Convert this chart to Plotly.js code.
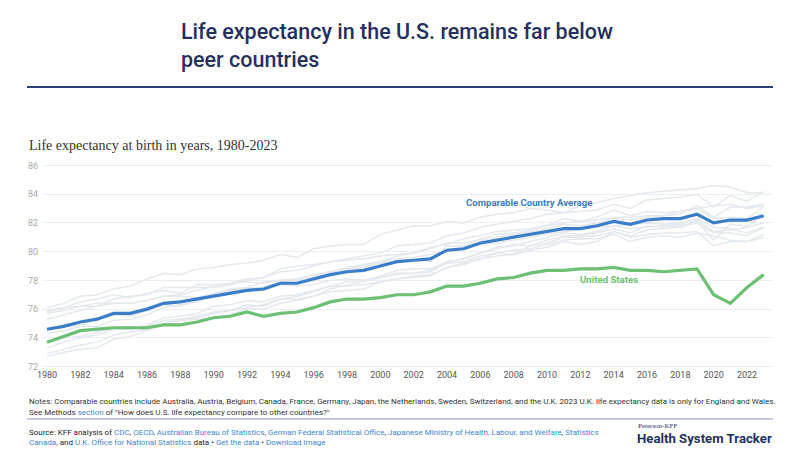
<!DOCTYPE html>
<html>
<head>
<meta charset="utf-8">
<script src="https://cdn.plot.ly/plotly-3.0.1.min.js"></script>
<style>
  html, body { margin: 0; padding: 0; background: #ffffff; }
  #chart { width: 800px; height: 458px; }
</style>
</head>
<body>
<div id="chart"></div>
<script>
// Years 1980-2023
const years = [1980,1981,1982,1983,1984,1985,1986,1987,1988,1989,1990,1991,1992,1993,1994,1995,1996,1997,1998,1999,2000,2001,2002,2003,2004,2005,2006,2007,2008,2009,2010,2011,2012,2013,2014,2015,2016,2017,2018,2019,2020,2021,2022,2023];

// Life expectancy at birth, United States
const unitedStates = [73.7,74.1,74.5,74.6,74.7,74.7,74.7,74.9,74.9,75.1,75.4,75.5,75.8,75.5,75.7,75.8,76.1,76.5,76.7,76.7,76.8,77.0,77.0,77.2,77.6,77.6,77.8,78.1,78.2,78.5,78.7,78.7,78.8,78.8,78.9,78.7,78.7,78.6,78.7,78.8,77.0,76.4,77.5,78.4];

// Comparable country average
const comparableAverage = [74.6,74.8,75.1,75.3,75.7,75.7,76.0,76.4,76.5,76.7,76.9,77.1,77.3,77.4,77.8,77.8,78.1,78.4,78.6,78.7,79.0,79.3,79.4,79.5,80.1,80.2,80.6,80.8,81.0,81.2,81.4,81.6,81.6,81.8,82.1,81.9,82.2,82.3,82.3,82.6,82.0,82.2,82.2,82.5];

// Individual comparable countries
const japan = [76.1,76.4,76.9,77.0,77.4,77.6,78.1,78.5,78.4,78.8,78.9,79.1,79.2,79.4,79.8,79.6,80.2,80.4,80.5,80.5,81.2,81.5,81.8,81.8,82.1,82.0,82.4,82.6,82.7,83.0,82.9,82.7,83.2,83.4,83.7,83.9,84.1,84.2,84.3,84.4,84.6,84.5,84.1,84.1];
const switzerland = [75.7,75.9,76.2,76.2,76.7,76.9,77.0,77.5,77.5,77.5,77.5,77.7,78.0,78.2,78.6,78.7,79.0,79.3,79.5,79.7,79.9,80.4,80.5,80.6,81.1,81.3,81.7,81.9,82.1,82.3,82.6,82.7,82.8,82.9,83.3,83.0,83.6,83.7,83.8,84.0,83.1,83.9,83.5,84.2];
const sweden = [75.8,76.1,76.5,76.7,77.0,76.8,77.1,77.3,77.1,77.7,77.7,77.8,78.1,78.2,78.8,79.0,79.1,79.3,79.4,79.5,79.7,79.8,79.9,80.2,80.6,80.6,80.8,81.0,81.2,81.4,81.6,81.9,81.8,82.0,82.3,82.2,82.4,82.5,82.6,83.2,82.4,83.1,83.1,83.3];
const australia = [74.6,74.9,74.8,75.4,75.6,75.5,75.9,76.3,76.2,76.6,77.0,77.4,77.5,77.9,78.0,78.1,78.3,78.6,78.9,79.1,79.3,79.7,79.9,80.3,80.5,80.9,81.1,81.4,81.5,81.6,81.8,82.0,82.1,82.2,82.4,82.4,82.5,82.5,82.8,83.0,83.2,83.3,83.0,83.2];
const canada = [75.3,75.6,75.9,76.2,76.4,76.4,76.6,76.9,77.0,77.3,77.6,77.8,77.9,77.8,78.0,78.1,78.4,78.6,78.8,79.0,79.3,79.5,79.6,79.8,80.1,80.2,80.5,80.6,80.8,81.0,81.2,81.4,81.6,81.7,81.8,81.9,82.0,81.9,82.0,82.3,81.7,81.6,81.3,81.7];
const france = [74.3,74.5,74.8,74.8,75.2,75.3,75.6,76.1,76.3,76.5,77.0,77.2,77.5,77.5,77.9,78.0,78.2,78.6,78.7,78.9,79.2,79.3,79.4,79.3,80.4,80.4,80.9,81.2,81.3,81.5,81.8,82.3,82.1,82.4,82.9,82.5,82.8,82.7,82.8,83.0,82.3,82.4,82.3,83.1];
const netherlands = [75.9,76.1,76.2,76.4,76.4,76.4,76.6,76.9,76.9,76.8,77.1,77.3,77.4,77.3,77.7,77.6,77.7,78.0,78.1,78.0,78.2,78.4,78.5,78.7,79.3,79.5,79.9,80.3,80.4,80.7,81.0,81.3,81.2,81.4,81.8,81.6,81.7,81.8,81.9,82.2,81.4,81.5,81.7,82.0];
const belgium = [73.3,73.7,74.0,74.2,74.6,74.6,74.9,75.4,75.5,75.7,76.2,76.3,76.6,76.5,76.9,77.0,77.3,77.6,77.6,77.7,77.9,78.1,78.2,78.3,78.9,79.1,79.5,79.9,79.8,80.1,80.3,80.7,80.5,80.7,81.4,81.1,81.5,81.6,81.7,82.1,80.8,81.9,81.8,82.5];
const austria = [72.7,73.0,73.2,73.3,73.9,74.1,74.5,74.9,75.3,75.5,75.8,75.9,76.1,76.3,76.7,76.9,77.2,77.6,77.9,78.0,78.3,78.7,78.8,78.8,79.3,79.5,79.9,80.2,80.5,80.4,80.8,81.1,81.1,81.3,81.6,81.3,81.8,81.7,81.8,82.0,81.3,81.3,81.1,81.7];
const germany = [72.9,73.2,73.5,73.7,74.2,74.4,74.6,75.0,75.2,75.3,75.4,75.6,76.0,76.0,76.4,76.6,76.9,77.4,77.7,77.9,78.2,78.5,78.5,78.6,79.2,79.3,79.7,79.9,80.1,80.2,80.5,80.8,80.9,80.9,81.2,80.7,81.0,81.1,81.0,81.3,81.1,80.8,80.7,81.2];
const unitedKingdom = [73.7,74.0,74.1,74.4,74.7,74.6,74.8,75.2,75.3,75.4,75.7,75.9,76.3,76.2,76.7,76.7,76.9,77.2,77.3,77.4,77.9,78.1,78.3,78.4,78.9,79.2,79.5,79.7,79.8,80.4,80.6,81.0,81.0,81.1,81.4,81.0,81.2,81.3,81.3,81.4,80.4,80.7,80.7,81.0];

const peerNames = ['Japan','Switzerland','Sweden','Australia','Canada','France','Netherlands','Belgium','Austria','Germany','United Kingdom'];
const peerSeries = [japan, switzerland, sweden, australia, canada, france, netherlands, belgium, austria, germany, unitedKingdom];

const yTicks = [72,74,76,78,80,82,84,86];
const xTicks = [1980,1982,1984,1986,1988,1990,1992,1994,1996,1998,2000,2002,2004,2006,2008,2010,2012,2014,2016,2018,2020,2022];

// Colours
const NAVY = '#25305f';
const BLUE = '#3b7dc8';
const GREEN = '#6cbf74';
const PEER = '#e4e9ee';
const LINK = '#3f86cf';

// Plot area in pixels
const L = 42, T = 164, W = 730, H = 204;
const px = x => (x - L) / W;
const py = y => (T + H - y) / H;

const traces = [];
peerSeries.forEach((vals, i) => {
  traces.push({
    x: years, y: vals, name: peerNames[i], type: 'scatter', mode: 'lines',
    line: { color: PEER, width: 1.5 }, hoverinfo: 'skip'
  });
});
traces.push({
  x: years, y: comparableAverage, name: 'Comparable Country Average',
  type: 'scatter', mode: 'lines', line: { color: BLUE, width: 3.2 }
});
traces.push({
  x: years, y: unitedStates, name: 'United States',
  type: 'scatter', mode: 'lines', line: { color: GREEN, width: 3.2 }
});

const sans = 'Roboto, "Noto Sans", sans-serif';
const link = t => '<span style="color:' + LINK + '">' + t + '</span>';
const small = 8;

const annotations = [
  { text: 'Life expectancy in the U.S. remains far below', x: px(179), y: py(31),
    font: { family: sans, size: 21.5, color: NAVY, weight: 500 } },
  { text: 'peer countries', x: px(179), y: py(59),
    font: { family: sans, size: 21.5, color: NAVY, weight: 500 } },
  { text: 'Life expectancy at birth in years, 1980-2023', x: px(27), y: py(145),
    font: { family: '"Liberation Serif", "DejaVu Serif", serif', size: 14, color: '#333333' } },
  { text: '<b>Comparable Country Average</b>', x: px(464), y: py(202),
    font: { family: sans, size: 9.6, color: BLUE } },
  { text: '<b>United States</b>', x: px(578), y: py(279),
    font: { family: sans, size: 9.6, color: GREEN } },
  { text: 'Notes: Comparable countries include Australia, Austria, Belgium, Canada, France, Germany, Japan, the Netherlands, Sweden, Switzerland, and the U.K. 2023 U.K. life expectancy data is only for England and Wales.',
    x: px(27), y: py(401), font: { family: sans, size: small, color: '#333333' } },
  { text: 'See Methods ' + link('section') + ' of "How does U.S. life expectancy compare to other countries?"',
    x: px(27), y: py(412), font: { family: sans, size: small, color: '#333333' } },
  { text: 'Source: KFF analysis of ' + link('CDC') + ', ' + link('OECD') + ', ' + link('Australian Bureau of Statistics') + ', ' +
      link('German Federal Statistical Office') + ', ' + link('Japanese Ministry of Health, Labour, and Welfare') + ', ' + link('Statistics'),
    x: px(27), y: py(432), font: { family: sans, size: small, color: '#222222' } },
  { text: link('Canada') + ', and ' + link('U.K. Office for National Statistics') + ' data \u2022 ' + link('Get the data') + ' \u2022 ' + link('Download image'),
    x: px(27), y: py(442), font: { family: sans, size: small, color: '#222222' } },
  { text: 'Peterson-KFF', x: px(636), y: py(426),
    font: { family: '"Liberation Serif", serif', size: 7, color: NAVY } },
  { text: '<b>Health System Tracker</b>', x: px(635), y: py(438),
    font: { family: sans, size: 13.2, color: NAVY } }
].map(a => Object.assign({ xref: 'paper', yref: 'paper', xanchor: 'left', yanchor: 'middle', showarrow: false, align: 'left' }, a));

const shapes = [
  { type: 'line', xref: 'paper', yref: 'paper', x0: px(27), x1: px(773), y0: py(87), y1: py(87),
    line: { color: '#2f3d73', width: 2 } },
  { type: 'line', xref: 'paper', yref: 'paper', x0: px(27), x1: px(773), y0: py(419), y1: py(419),
    line: { color: '#8594c0', width: 1 } }
];

const layout = {
  width: 800, height: 458,
  margin: { l: L, r: 800 - L - W, t: T, b: 458 - T - H, pad: 0 },
  paper_bgcolor: '#ffffff', plot_bgcolor: '#ffffff',
  showlegend: false,
  xaxis: {
    range: [1979.7, 2023.5], tickvals: xTicks, ticktext: xTicks.map(String),
    showgrid: false, zeroline: false, showline: false, ticks: '',
    tickfont: { family: sans, size: 9, color: '#555555' }
  },
  yaxis: {
    range: [71.9, 86.1], tickvals: yTicks, ticktext: yTicks.map(String),
    showgrid: true, gridcolor: '#eceff2', gridwidth: 1, zeroline: false, showline: false, ticks: '',
    ticklabelstandoff: 3,
    tickfont: { family: sans, size: 9, color: '#aaaaaa' }
  },
  annotations: annotations,
  shapes: shapes
};

Plotly.newPlot('chart', traces, layout, { staticPlot: true, displayModeBar: false });
</script>
</body>
</html>
